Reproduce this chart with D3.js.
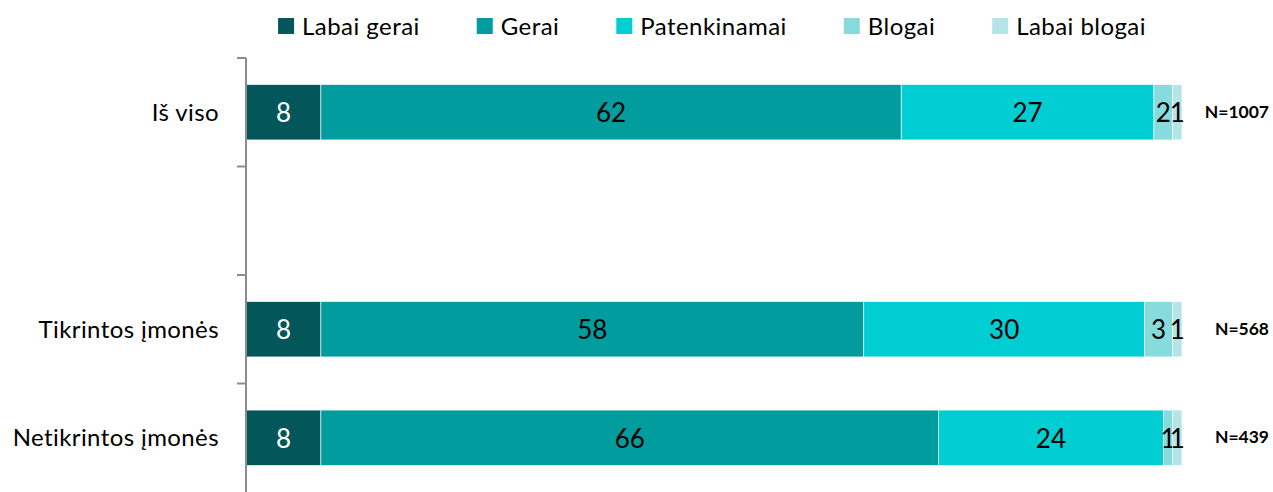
<!DOCTYPE html>
<html>
<head>
<meta charset="utf-8">
<script src="https://cdn.jsdelivr.net/npm/d3@7"></script>
<style>
  body { margin: 0; background: #fff; }
  text { font-family: Lato, "Open Sans", sans-serif; }
</style>
</head>
<body>
<svg id="chart"></svg>
<script>
// categories (blank slot between the total and the two groups)
const categories = ["Iš viso", "", "Tikrintos įmonės", "Netikrintos įmonės"];
const series = ["Labai gerai", "Gerai", "Patenkinamai", "Blogai", "Labai blogai"];
const labaiGerai  = [8, null, 8, 8];
const gerai       = [62, null, 58, 66];
const patenkinami = [27, null, 30, 24];
const blogai      = [2, null, 3, 1];
const labaiBlogai = [1, null, 1, 1];
const nLabels     = ["N=1007", "", "N=568", "N=439"];
const colors = ["#03575a", "#019d9e", "#00ced2", "#86dbdd", "#b5e6e7"];

const width = 1273, height = 492;

const rows = categories.map((c, i) => ({
    cat: c,
    "Labai gerai": labaiGerai[i],
    "Gerai": gerai[i],
    "Patenkinamai": patenkinami[i],
    "Blogai": blogai[i],
    "Labai blogai": labaiBlogai[i],
    n: nLabels[i]
}));
const barRows = rows.filter(d => d.cat !== "");

const svg = d3.select("#chart")
    .attr("width", width)
    .attr("height", height);

const x = d3.scaleLinear()
    .domain([0, 100])
    .range([246, 1182]);

const y = d3.scaleBand()
    .domain(categories)
    .range([58, 492])
    .paddingInner(0.49)
    .paddingOuter(0.245);

const color = d3.scaleOrdinal()
    .domain(series)
    .range(colors);

const stack = d3.stack().keys(series);
const layers = stack(barRows);

const groups = svg.selectAll(".layer")
    .data(layers)
  .enter().append("g")
    .attr("class", "layer")
    .attr("fill", d => color(d.key));

groups.selectAll("rect")
    .data(d => d)
  .enter().append("rect")
    .attr("x", d => x(d[0]))
    .attr("y", d => y(d.data.cat))
    .attr("width", d => x(d[1]) - x(d[0]))
    .attr("height", y.bandwidth())
    .attr("stroke", "#fff")
    .attr("stroke-width", 0.6);

// value labels inside segments
groups.each(function(layer, li) {
    d3.select(this).selectAll("text")
        .data(layer)
      .enter().append("text")
        .attr("x", d => (x(d[0]) + x(d[1])) / 2)
        .attr("y", d => y(d.data.cat) + y.bandwidth() / 2)
        .attr("dy", "0.38em")
        .attr("text-anchor", "middle")
        .attr("font-size", 26)
        .attr("fill", li === 0 ? "#fff" : "#000")
        .text(d => d[1] - d[0]);
});

// category axis: vertical line with ticks at band boundaries
const axisG = svg.append("g");
axisG.append("line")
    .attr("x1", 246).attr("x2", 246)
    .attr("y1", y.range()[0]).attr("y2", y.range()[1])
    .attr("stroke", "#8c8c8c")
    .attr("stroke-width", 2);

const boundaries = d3.range(categories.length).map(i => y.range()[0] + i * y.step());
axisG.selectAll(".tick")
    .data(boundaries)
  .enter().append("line")
    .attr("x1", 237).attr("x2", 246)
    .attr("y1", d => d).attr("y2", d => d)
    .attr("stroke", "#8c8c8c")
    .attr("stroke-width", 2);

axisG.selectAll(".cat")
    .data(barRows)
  .enter().append("text")
    .attr("x", 219)
    .attr("y", d => y(d.cat) + y.bandwidth() / 2)
    .attr("dy", "0.36em")
    .attr("text-anchor", "end")
    .attr("font-size", 24)
    .attr("letter-spacing", 0.4)
    .attr("fill", "#000")
    .text(d => d.cat);

// N labels
svg.selectAll(".nlab")
    .data(barRows)
  .enter().append("text")
    .attr("x", 1269)
    .attr("y", d => y(d.cat) + y.bandwidth() / 2 - 1)
    .attr("dy", "0.36em")
    .attr("text-anchor", "end")
    .attr("font-size", 17.5)
    .attr("font-weight", "bold")
    .attr("fill", "#000")
    .text(d => d.n);

// legend
const legend = svg.append("g");
const items = legend.selectAll(".item")
    .data(series)
  .enter().append("g")
    .attr("class", "item");

items.append("rect")
    .attr("width", 16)
    .attr("height", 16)
    .attr("y", 18)
    .attr("fill", d => color(d));

items.append("text")
    .attr("x", 24)
    .attr("y", 26)
    .attr("dy", "0.36em")
    .attr("font-size", 24)
    .attr("letter-spacing", 0.45)
    .attr("fill", "#000")
    .text(d => d);

let offset = 0;
const widths = [];
items.each(function() {
    const w = this.querySelector("text").getComputedTextLength() + 24;
    widths.push(w);
});
const gap = 57;
const total = d3.sum(widths) + gap * (widths.length - 1);
let start = 712 - total / 2;
items.attr("transform", (d, i) => {
    const t = `translate(${start + offset},0)`;
    offset += widths[i] + gap;
    return t;
});
</script>
</body>
</html>
